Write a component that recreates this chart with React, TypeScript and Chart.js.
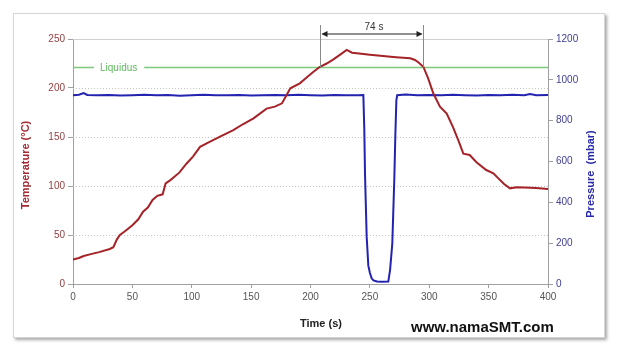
import React, { useEffect, useRef } from 'react';
import { Chart, registerables } from 'chart.js';

Chart.register(...registerables);

// ---- data ----
const tempTime = [0, 5, 9, 15, 22, 31, 34, 37, 39.5, 44, 50, 55, 59, 63, 67, 71, 75.5, 78, 82, 89.5, 95.7, 101, 107, 115, 123.8, 135, 143, 152, 163, 170, 176, 180, 183, 191, 196, 202, 208, 213.6, 219, 225, 230.5, 235, 239, 250, 261, 272, 284, 288, 291, 295, 299, 303.4, 309, 314.7, 320, 325, 328.7, 334, 340, 348, 354, 358, 363, 368, 373.6, 380, 390, 400];
const tempValues = [25, 26.5, 28.6, 30.5, 32.5, 35.7, 37.5, 45.6, 50, 54, 60, 66, 73.8, 78, 85.7, 90, 91.5, 102.7, 106, 113.6, 123, 130, 140, 145, 150.3, 157, 163, 169, 179, 181, 184.4, 193, 199.7, 204.8, 210, 216, 221.7, 225, 229, 234, 238.8, 236, 235.4, 234, 232.7, 231.5, 230.3, 228.6, 226, 221.7, 210, 194.6, 181, 174, 160, 145, 133, 131.6, 124, 116.3, 113, 108, 102, 97.6, 98.6, 98.5, 98, 97];

const pressTime = [0, 5, 9, 12, 20, 30, 40, 50, 60, 70, 80, 90, 100, 110, 120, 130, 140, 150, 160, 170, 180, 190, 200, 210, 220, 230, 240, 244.5, 245.3, 245.9, 247.3, 248.7, 250, 251.5, 253, 256, 260, 265.5, 267, 268.9, 270.6, 271.5, 272.3, 273, 280, 290, 300, 310, 320, 330, 340, 350, 360, 370, 380, 385, 390, 400];
const pressValues = [925, 927, 935, 926, 924, 926, 923, 925, 927, 924, 926, 922, 925, 927, 924, 925, 926, 923, 925, 926, 924, 927, 925, 923, 926, 925, 924, 925, 760, 540, 232, 90, 55, 28, 18, 12, 11, 12, 68, 199, 520, 740, 900, 925, 928, 924, 926, 924, 927, 925, 923, 926, 925, 927, 924, 930, 925, 926];

const xTicks = [0, 50, 100, 150, 200, 250, 300, 350, 400];
const tempTicks = [0, 50, 100, 150, 200, 250];
const pressTicks = [0, 200, 400, 600, 800, 1000, 1200];

const liquidusTemp = 221;
const liquidusLabel = 'Liquidus';
const spanStart = 208;
const spanEnd = 294.7;
const spanLabel = '74 s';

const xTitle = 'Time (s)';
const tempTitle = 'Temperature (°C)';
const pressTitle = 'Pressure  (mbar)';
const watermark = 'www.namaSMT.com';

const FONT = '"Liberation Sans", Arial, sans-serif';

const overlay = {
  id: 'overlay',
  beforeDatasetsDraw(chart: any) {
    const { ctx, chartArea: a, scales } = chart;
    const y = scales.y;
    ctx.save();
    ctx.lineWidth = 1;
    for (const v of tempTicks) {
      if (v === 0) continue;
      const py = Math.round(y.getPixelForValue(v)) + 0.5;
      ctx.strokeStyle = v === 250 ? '#cfcfcf' : '#c4c4c4';
      ctx.setLineDash(v === 250 ? [] : [1, 2]);
      ctx.beginPath();
      ctx.moveTo(a.left, py);
      ctx.lineTo(a.right, py);
      ctx.stroke();
    }
    ctx.setLineDash([]);
    // liquidus line with label
    const ly = y.getPixelForValue(liquidusTemp);
    ctx.font = '10px ' + FONT;
    const tx = a.left + 27;
    const tw = ctx.measureText(liquidusLabel).width;
    ctx.strokeStyle = 'rgb(125,200,125)';
    ctx.lineWidth = 1.5;
    ctx.beginPath();
    ctx.moveTo(a.left, ly);
    ctx.lineTo(tx - 6, ly);
    ctx.moveTo(tx + tw + 7, ly);
    ctx.lineTo(a.right, ly);
    ctx.stroke();
    ctx.fillStyle = 'rgb(95,185,95)';
    ctx.textBaseline = 'middle';
    ctx.textAlign = 'left';
    ctx.fillText(liquidusLabel, tx, ly + 1);
    ctx.restore();
  },
  afterDraw(chart: any) {
    const { ctx, chartArea: a, scales } = chart;
    const x = scales.x;
    const y = scales.y;
    ctx.save();
    // span annotation
    const x1 = Math.round(x.getPixelForValue(spanStart)) + 0.5;
    const x2 = Math.round(x.getPixelForValue(spanEnd)) + 0.5;
    const ly = y.getPixelForValue(liquidusTemp);
    const topY = a.top - 14;
    const arY = a.top - 5;
    ctx.strokeStyle = '#8a8a8a';
    ctx.lineWidth = 1;
    ctx.beginPath();
    ctx.moveTo(x1, topY);
    ctx.lineTo(x1, ly);
    ctx.moveTo(x2, topY);
    ctx.lineTo(x2, ly);
    ctx.stroke();
    ctx.strokeStyle = '#222';
    ctx.beginPath();
    ctx.moveTo(x1 + 2, arY);
    ctx.lineTo(x2 - 2, arY);
    ctx.stroke();
    ctx.fillStyle = '#222';
    ctx.beginPath();
    ctx.moveTo(x1 + 1, arY);
    ctx.lineTo(x1 + 7, arY - 3);
    ctx.lineTo(x1 + 7, arY + 3);
    ctx.closePath();
    ctx.fill();
    ctx.beginPath();
    ctx.moveTo(x2 - 1, arY);
    ctx.lineTo(x2 - 7, arY - 3);
    ctx.lineTo(x2 - 7, arY + 3);
    ctx.closePath();
    ctx.fill();
    ctx.font = '10px ' + FONT;
    ctx.fillStyle = '#333';
    ctx.textAlign = 'center';
    ctx.textBaseline = 'middle';
    ctx.fillText(spanLabel, (x1 + x2) / 2 + 2, a.top - 11.5);

    // axis titles
    ctx.font = 'bold 11px ' + FONT;
    ctx.save();
    ctx.translate(a.left - 47, 165);
    ctx.rotate(-Math.PI / 2);
    ctx.fillStyle = 'rgb(165,40,50)';
    ctx.fillText(tempTitle, 0, 0);
    ctx.restore();
    ctx.save();
    ctx.translate(a.right + 43, 174);
    ctx.rotate(-Math.PI / 2);
    ctx.fillStyle = 'rgb(40,40,170)';
    ctx.fillText(pressTitle, 0, 0);
    ctx.restore();
    ctx.fillStyle = '#222';
    ctx.fillText(xTitle, 321, a.bottom + 40);

    // watermark
    ctx.font = 'bold 15px ' + FONT;
    ctx.fillStyle = '#111';
    ctx.textAlign = 'left';
    ctx.textBaseline = 'alphabetic';
    ctx.fillText(watermark, 411, a.bottom + 48);
    ctx.restore();
  },
};

const plain = (v: any) => String(v);

export default function App() {
  const ref = useRef<HTMLCanvasElement>(null);
  useEffect(() => {
    if (!ref.current) return;
    Chart.defaults.font.family = FONT;
    const chart = new Chart(ref.current, {
      type: 'line',
      data: {
        datasets: [
          {
            label: 'Temperature',
            data: tempTime.map((t, i) => ({ x: t, y: tempValues[i] })),
            borderColor: 'rgb(165,35,40)',
            borderWidth: 2,
            pointRadius: 0,
            tension: 0,
            yAxisID: 'y',
          },
          {
            label: 'Pressure',
            data: pressTime.map((t, i) => ({ x: t, y: pressValues[i] })),
            borderColor: 'rgb(35,35,175)',
            borderWidth: 2,
            pointRadius: 0,
            tension: 0,
            yAxisID: 'y1',
          },
        ],
      },
      options: {
        responsive: false,
        maintainAspectRatio: false,
        animation: false,
        layout: { padding: { left: 13, right: 25, top: 39, bottom: 14 } },
        plugins: { legend: { display: false }, tooltip: { enabled: false } },
        scales: {
          x: {
            type: 'linear',
            min: 0,
            max: 400,
            afterBuildTicks: (s: any) => {
              s.ticks = xTicks.map((v) => ({ value: v }));
            },
            afterFit: (s: any) => {
              s.height = 54;
            },
            ticks: { color: '#555', padding: 3, font: { size: 10 }, maxRotation: 0, callback: plain },
            grid: { drawOnChartArea: false, tickLength: 4, color: '#a0a0a0' },
            border: { color: '#a0a0a0' },
          },
          y: {
            position: 'left',
            min: 0,
            max: 250,
            afterBuildTicks: (s: any) => {
              s.ticks = tempTicks.map((v) => ({ value: v }));
            },
            afterFit: (s: any) => {
              s.width = 60;
            },
            ticks: { color: 'rgb(150,65,65)', padding: 3, font: { size: 10 }, callback: plain },
            grid: { drawOnChartArea: false, tickLength: 5, color: '#a0a0a0' },
            border: { color: '#a0a0a0' },
          },
          y1: {
            position: 'right',
            min: 0,
            max: 1200,
            afterBuildTicks: (s: any) => {
              s.ticks = pressTicks.map((v) => ({ value: v }));
            },
            afterFit: (s: any) => {
              s.width = 57;
            },
            ticks: { color: 'rgb(65,65,150)', padding: 3, font: { size: 10 }, callback: plain },
            grid: { drawOnChartArea: false, tickLength: 5, color: '#a0a0a0' },
            border: { color: '#a0a0a0' },
          },
        },
      },
      plugins: [overlay],
    } as any);
    return () => chart.destroy();
  }, []);

  return (
    <div style={{ position: 'fixed', left: 0, top: 0, width: 630, height: 352, background: '#fff' }}>
      <div
        style={{
          position: 'absolute',
          left: 13,
          top: 13,
          width: 590,
          height: 323,
          border: '1px solid #d6d6d6',
          boxShadow: '2px 2px 3px rgba(0,0,0,0.35)',
          background: '#fff',
        }}
      />
      <canvas ref={ref} width={630} height={352} style={{ position: 'absolute', left: 0, top: 0 }} />
    </div>
  );
}
